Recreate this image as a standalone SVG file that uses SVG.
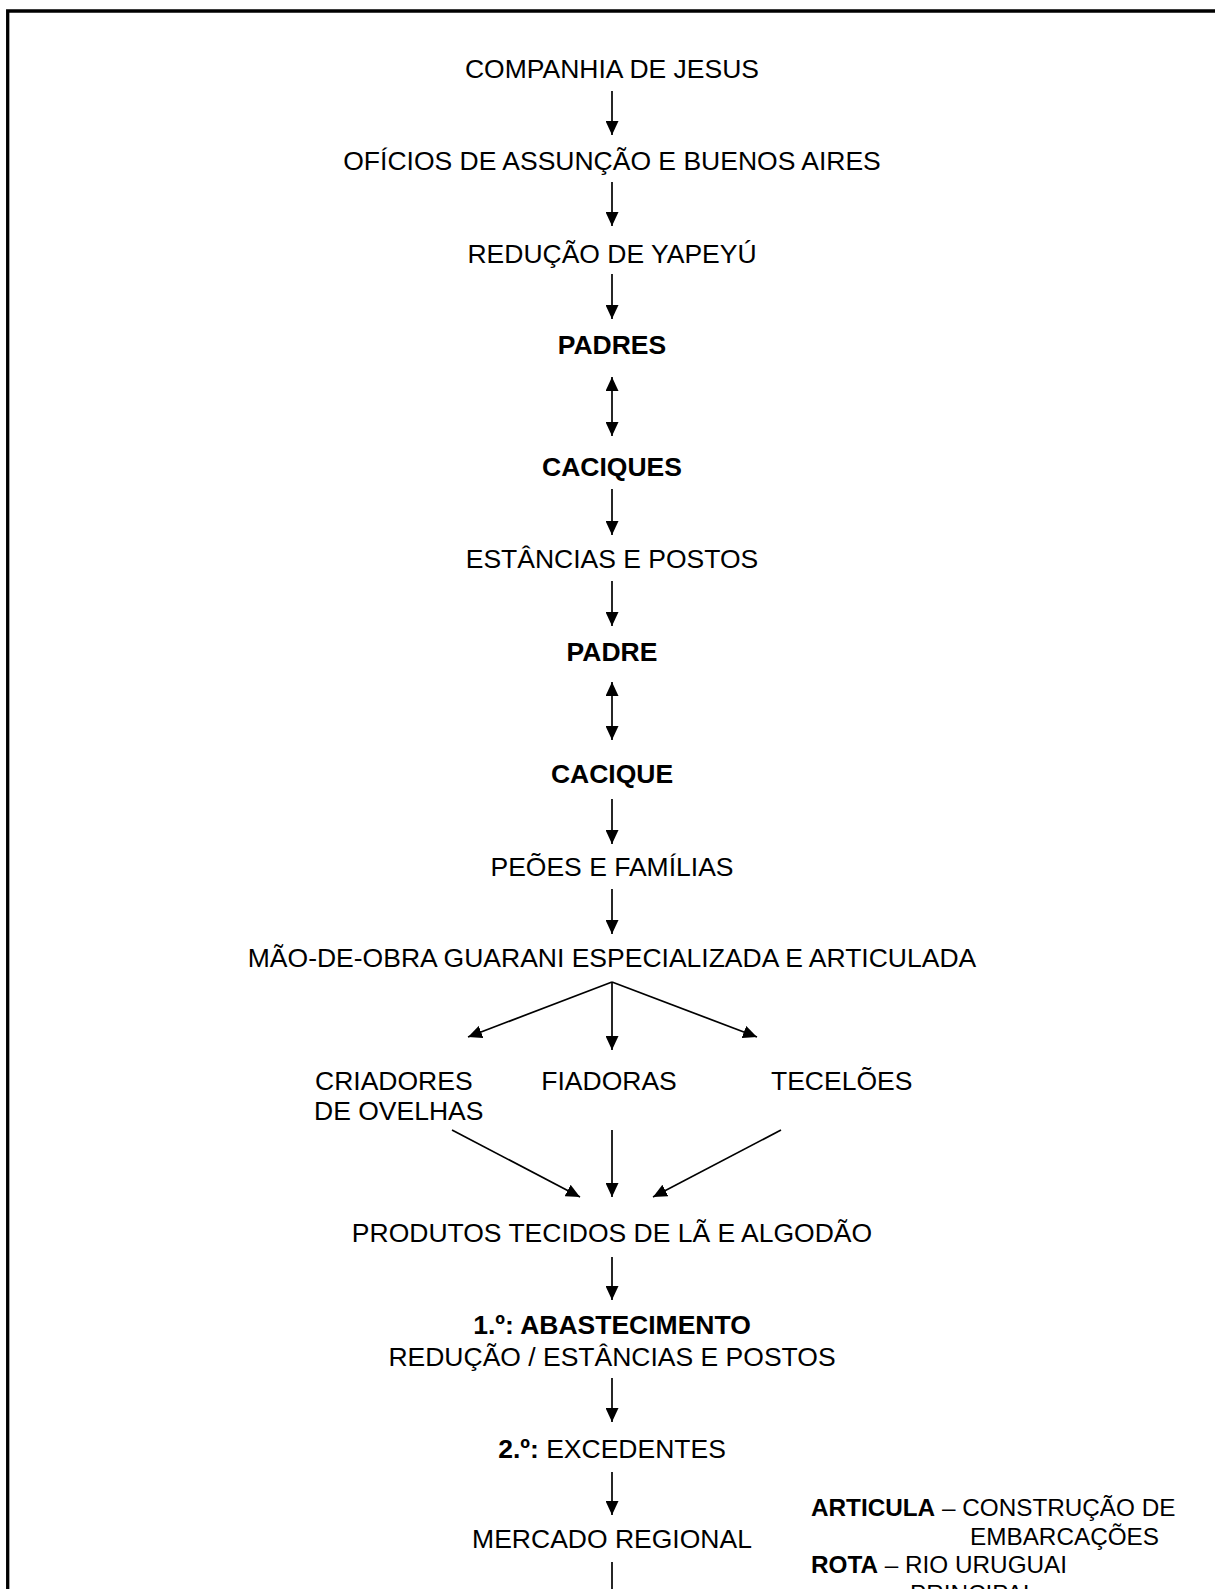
<svg xmlns="http://www.w3.org/2000/svg" width="1215" height="1589" viewBox="0 0 1215 1589">
<defs>
<style>
text{font-family:"Liberation Sans",Arial,sans-serif;fill:#000;}
.m{font-size:26.5px;text-anchor:middle;}
.l{font-size:26.5px;}
.s{font-size:24.3px;}
.b{font-weight:bold;}
.c line{stroke:#000;stroke-width:1.7;fill:none;marker-end:url(#ah);}
.c line.bi{marker-start:url(#ah);}
.c line.nh{marker-end:none;}
</style>
<marker id="ah" viewBox="0 0 14 13" markerWidth="14" markerHeight="13" refX="14" refY="6.5" orient="auto-start-reverse" markerUnits="userSpaceOnUse">
<path d="M0,0 L14,6.5 L0,13 z" fill="#000"/>
</marker>
</defs>
<rect width="1215" height="1589" fill="#fff"/>
<path id="frame" d="M7.7,1600 V11 H1220" fill="none" stroke="#000" stroke-width="3.3"/>
<g id="n1"><text class="m" x="612" y="78">COMPANHIA DE JESUS</text></g>
<g id="n2"><text class="m" x="612" y="170">OFÍCIOS DE ASSUNÇÃO E BUENOS AIRES</text></g>
<g id="n3"><text class="m" x="612" y="263">REDUÇÃO DE YAPEYÚ</text></g>
<g id="n4"><text class="m b" x="612" y="354">PADRES</text></g>
<g id="n5"><text class="m b" x="612" y="476">CACIQUES</text></g>
<g id="n6"><text class="m" x="612" y="568">ESTÂNCIAS E POSTOS</text></g>
<g id="n7"><text class="m b" x="612" y="661">PADRE</text></g>
<g id="n8"><text class="m b" x="612" y="783">CACIQUE</text></g>
<g id="n9"><text class="m" x="612" y="876">PEÕES E FAMÍLIAS</text></g>
<g id="n10"><text class="m" x="612" y="967">MÃO-DE-OBRA GUARANI ESPECIALIZADA E ARTICULADA</text></g>
<g id="n11"><text class="l" x="315" y="1090">CRIADORES</text><text class="l" x="314" y="1120">DE OVELHAS</text></g>
<g id="n12"><text class="m" x="609" y="1090">FIADORAS</text></g>
<g id="n13"><text class="l" x="771" y="1090">TECELÕES</text></g>
<g id="n14"><text class="m" x="612" y="1242">PRODUTOS TECIDOS DE LÃ E ALGODÃO</text></g>
<g id="n15"><text class="m b" x="612" y="1334">1.º: ABASTECIMENTO</text><text class="m" x="612" y="1366">REDUÇÃO / ESTÂNCIAS E POSTOS</text></g>
<g id="n16"><text class="m" x="612" y="1458"><tspan class="b">2.º:</tspan> EXCEDENTES</text></g>
<g id="n17"><text class="m" x="612" y="1548">MERCADO REGIONAL</text></g>
<g id="n18">
<text class="s" x="811" y="1516"><tspan class="b">ARTICULA</tspan> – CONSTRUÇÃO DE</text>
<text class="s" x="970" y="1545">EMBARCAÇÕES</text>
<text class="s" x="811" y="1573"><tspan class="b">ROTA</tspan> – RIO URUGUAI</text>
<text class="s" x="910" y="1602">PRINCIPAL</text>
</g>
<g id="connectors" class="c">
<line x1="612" y1="91" x2="612" y2="135"/>
<line x1="612" y1="182" x2="612" y2="226"/>
<line x1="612" y1="274" x2="612" y2="319"/>
<line class="bi" x1="612" y1="377" x2="612" y2="436"/>
<line x1="612" y1="489" x2="612" y2="535"/>
<line x1="612" y1="581" x2="612" y2="626"/>
<line class="bi" x1="612" y1="682" x2="612" y2="740"/>
<line x1="612" y1="799" x2="612" y2="844"/>
<line x1="612" y1="889" x2="612" y2="934"/>
<line x1="612" y1="982" x2="468" y2="1037"/>
<line x1="612" y1="982" x2="612" y2="1050"/>
<line x1="612" y1="982" x2="757" y2="1037"/>
<line x1="452" y1="1130" x2="580" y2="1197"/>
<line x1="612" y1="1130" x2="612" y2="1197"/>
<line x1="781" y1="1130" x2="653" y2="1197"/>
<line x1="612" y1="1257" x2="612" y2="1300"/>
<line x1="612" y1="1378" x2="612" y2="1422"/>
<line x1="612" y1="1472" x2="612" y2="1515"/>
<line class="nh" x1="612" y1="1562" x2="612" y2="1600"/>
</g>
</svg>
